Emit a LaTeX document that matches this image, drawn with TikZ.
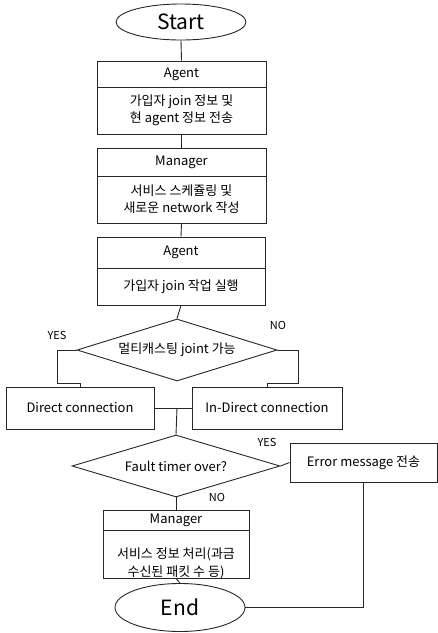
\documentclass[tikz,border=0pt]{standalone}
\usepackage{fontspec}
\setmainfont{Noto Sans CJK KR}
\usetikzlibrary{shapes.geometric}
\begin{document}
\begin{tikzpicture}[x=1pt,y=-1pt,
  every node/.style={font=\fontsize{13}{17}\selectfont},
  line/.style={draw=black!85,line width=0.9pt},
  hdr/.style={line,rectangle,inner sep=0pt,align=center},
  term/.style={line,ellipse,inner sep=0pt,minimum width=130pt,font=\fontsize{21}{24}\selectfont},
  dec/.style={line,diamond,inner sep=0pt,aspect=3.2},
  lbl/.style={font=\fontsize{11}{13}\selectfont,inner sep=0pt}]
\useasboundingbox (0,0) rectangle (438,633);
% terminals
\node[term,minimum height=36pt] (start) at (181,22) {Start};
\node[term,minimum height=48pt] (end) at (180,607.5) {End};
% agent 1
\node[hdr,minimum width=169pt,minimum height=26pt] (a1h) at (181.5,74) {Agent};
\node[hdr,minimum width=169pt,minimum height=47pt] (a1b) at (181.5,110.5) {가입자 join 정보 및\\현 agent 정보 전송};
% manager 1
\node[hdr,minimum width=169pt,minimum height=28pt] (m1h) at (181.5,162) {Manager};
\node[hdr,minimum width=169pt,minimum height=47pt] (m1b) at (181.5,199.5) {서비스 스케쥴링 및\\새로운 network 작성};
% agent 2
\node[hdr,minimum width=168pt,minimum height=31pt] (a2h) at (181,252.5) {Agent};
\node[hdr,minimum width=168pt,minimum height=37pt] (a2b) at (181,286.5) {가입자 join 작업 실행};
% decision 1
\node[dec,minimum width=200pt,minimum height=62pt] (d1) at (177,350) {멀티캐스팅 joint 가능};
% connections
\node[hdr,minimum width=148pt,minimum height=42pt] (direct) at (80,408) {Direct connection};
\node[hdr,minimum width=150pt,minimum height=42pt] (indirect) at (267,408) {In-Direct connection};
% decision 2
\node[dec,minimum width=208pt,minimum height=62pt] (d2) at (176,466) {Fault timer over?};
\node[hdr,minimum width=147pt,minimum height=39pt] (err) at (363.5,462.5) {Error message 전송};
% manager 2
\node[hdr,minimum width=146pt,minimum height=20pt] (m2h) at (176,520) {Manager};
\node[hdr,minimum width=146pt,minimum height=48pt] (m2b) at (176,554) {};
\node[inner sep=0pt,align=center,font=\fontsize{13}{18}\selectfont] (m2t) at (176,563) {서비스 정보 처리(과금\\수신된 패킷 수 등)};
% labels
\node[lbl] (yes1) at (57,335) {YES};
\node[lbl] (no1) at (278,325) {NO};
\node[lbl] (yes2) at (267,442) {YES};
\node[lbl] (no2) at (217,497) {NO};
% coordinates
\coordinate (j) at (177,408);
% connectors
\draw[line] (start.south) -- (a1h.north);
\draw[line] (a1b.south) -- (m1h.north);
\draw[line] (m1b.south) -- (a2h.north);
\draw[line] (a2b.south) -- (d1.north);
\draw[line] (d1.west) -- (57,350) -- (57,383) -- (80,383) -- (direct.north);
\draw[line] (d1.east) -- (298,350) -- (298,383) -- (267,383) -- (indirect.north);
\draw[line] (direct.east) -- (indirect.west);
\draw[line] (j) -- (d2.north);
\draw[line] (d2.east) -- (err.west);
\draw[line] (d2.south) -- (m2h.north);
\draw[line] (m2b.south) -- (end.north);
\draw[line] (err.south) |- (end.east);
\end{tikzpicture}
\end{document}
